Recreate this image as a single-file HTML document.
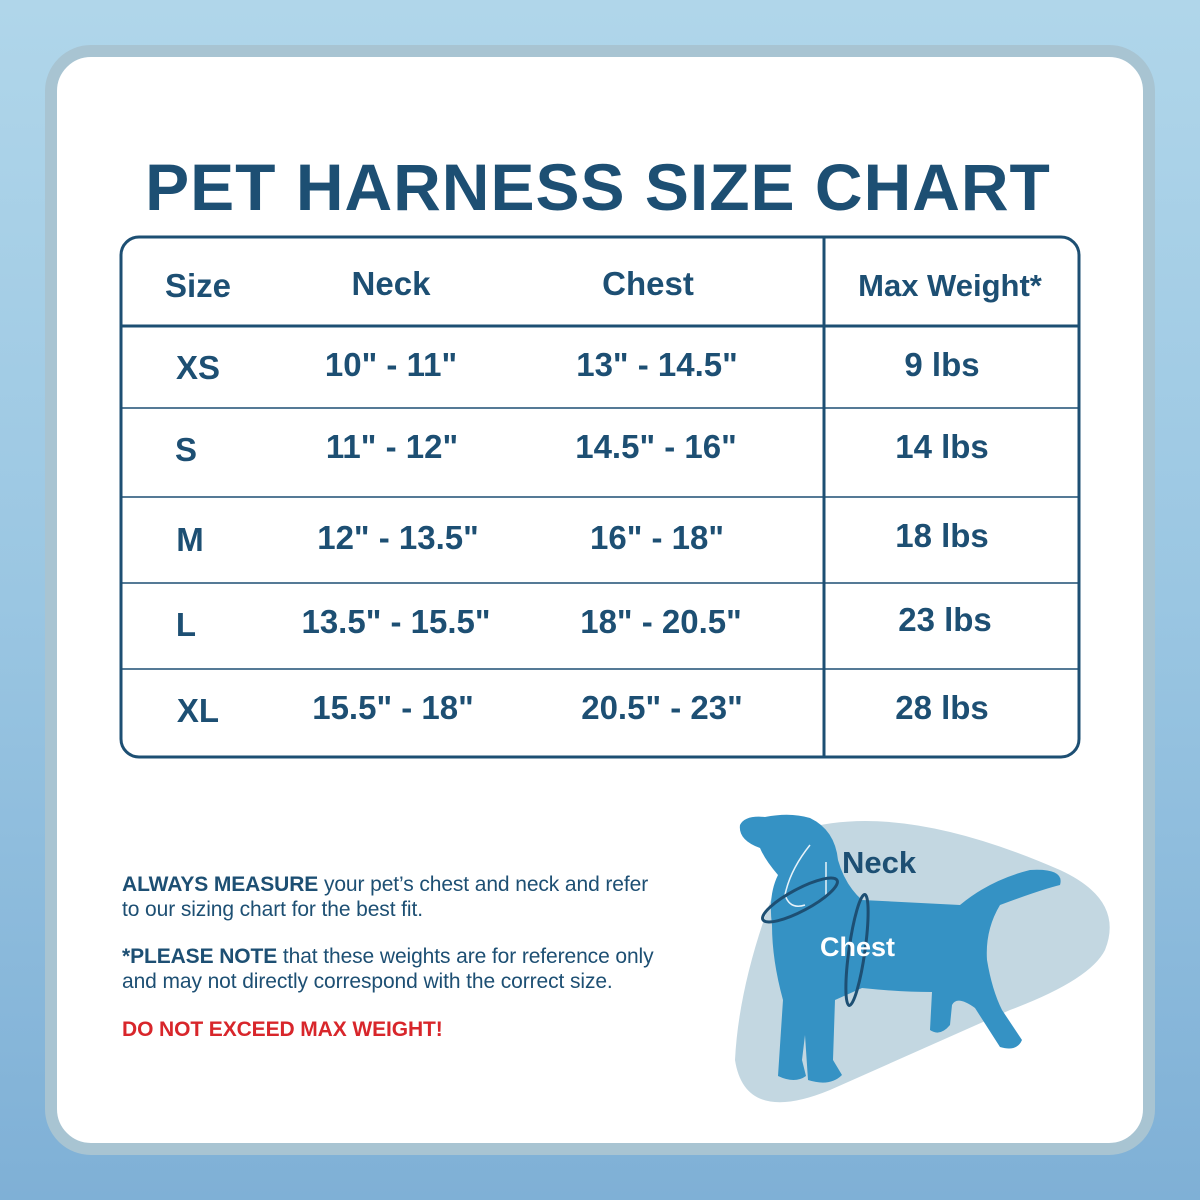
<!DOCTYPE html>
<html><head><style>
body{margin:0;width:1200px;height:1200px;overflow:hidden;background:linear-gradient(180deg,#b0d6ea 0%,#9ac6e2 50%,#7fb0d6 100%);font-family:"Liberation Sans",sans-serif;position:relative}
.card{position:absolute;left:45px;top:45px;width:1086px;height:1086px;border:12px solid #a8c4d2;border-radius:46px;background:#fff}
.t{position:absolute;color:#1d4f73;font-weight:bold;white-space:nowrap;transform:translateX(-50%)}
.h{font-size:33px}
.c{font-size:33px}
.p{position:absolute;left:122px;font-size:21px;color:#1d4f73;line-height:25px;letter-spacing:-0.1px;white-space:nowrap}
</style></head><body>
<div class="card"></div>
<div class="t" style="left:598px;top:149px;font-size:66px;letter-spacing:1px">PET HARNESS SIZE CHART</div>
<svg style="position:absolute;left:0;top:0" width="1200" height="1200">
<rect x="121" y="237" width="958" height="520" rx="18" fill="none" stroke="#1d4f73" stroke-width="3"/>
<line x1="824" y1="237" x2="824" y2="757" stroke="#1d4f73" stroke-width="3"/>
<line x1="121" y1="326" x2="1079" y2="326" stroke="#1d4f73" stroke-width="3"/>
<g stroke="#1d4f73" stroke-width="1.5">
<line x1="121" y1="408" x2="1079" y2="408"/><line x1="121" y1="497" x2="1079" y2="497"/>
<line x1="121" y1="583" x2="1079" y2="583"/><line x1="121" y1="669" x2="1079" y2="669"/></g>
<path d="M800 830 Q900 800 1060 870 Q1125 900 1105 950 Q1090 980 1010 1010 L830 1090 Q745 1125 735 1060 Q740 960 800 830Z" fill="#c3d7e1"/>
<g fill="#3592c4">
<path d="M740 825 Q745 815 765 817 Q790 812 810 818 Q835 830 838 860 Q845 885 862 900 L960 905 Q990 880 1030 870 Q1065 868 1060 885 Q1040 890 1000 905 Q985 930 987 960 Q992 990 1002 1010 L1022 1040 Q1017 1052 1000 1047 L975 1008 Q957 995 952 1005 L950 1025 Q940 1037 930 1030 L932 992 Q900 992 862 988 L835 1000 L833 1060 L842 1075 Q830 1087 808 1080 L805 1035 L802 1060 L806 1076 Q795 1084 778 1076 L783 1000 Q772 960 772 925 Q768 895 778 875 Q765 860 760 848 Q738 840 740 825Z"/>
</g>
<path d="M810 845 Q790 870 785 895 Q790 910 805 905 M826 862 L826 895" fill="none" stroke="#e8f3fa" stroke-width="1.5"/>
<ellipse cx="800" cy="900" rx="42" ry="11" transform="rotate(-28 800 900)" fill="none" stroke="#1d4f73" stroke-width="3"/>
<ellipse cx="857" cy="950" rx="8" ry="56" transform="rotate(8 857 950)" fill="none" stroke="#1d4f73" stroke-width="3"/>
</svg>
<div class="t h" style="left:198px;top:267px">Size</div>
<div class="t h" style="left:391px;top:265px">Neck</div>
<div class="t h" style="left:648px;top:265px">Chest</div>
<div class="t h" style="left:950px;top:268px;font-size:31px">Max Weight*</div>
<div class="t c" style="left:198px;top:349px">XS</div><div class="t c" style="left:391px;top:346px">10" - 11"</div><div class="t c" style="left:657px;top:346px">13" - 14.5"</div><div class="t c" style="left:942px;top:346px">9 lbs</div>
<div class="t c" style="left:186px;top:431px">S</div><div class="t c" style="left:392px;top:428px">11" - 12"</div><div class="t c" style="left:656px;top:428px">14.5" - 16"</div><div class="t c" style="left:942px;top:428px">14 lbs</div>
<div class="t c" style="left:190px;top:521px">M</div><div class="t c" style="left:398px;top:519px">12" - 13.5"</div><div class="t c" style="left:657px;top:519px">16" - 18"</div><div class="t c" style="left:942px;top:517px">18 lbs</div>
<div class="t c" style="left:186px;top:606px">L</div><div class="t c" style="left:396px;top:603px">13.5" - 15.5"</div><div class="t c" style="left:661px;top:603px">18" - 20.5"</div><div class="t c" style="left:945px;top:601px">23 lbs</div>
<div class="t c" style="left:198px;top:692px">XL</div><div class="t c" style="left:393px;top:689px">15.5" - 18"</div><div class="t c" style="left:662px;top:689px">20.5" - 23"</div><div class="t c" style="left:942px;top:689px">28 lbs</div>
<div class="p" style="top:872px"><b>ALWAYS MEASURE</b> your pet’s chest and neck and refer<br>to our sizing chart for the best fit.</div>
<div class="p" style="top:944px"><b>*PLEASE NOTE</b> that these weights are for reference only<br>and may not directly correspond with the correct size.</div>
<div class="p" style="top:1017px;color:#d8262b;font-weight:bold">DO NOT EXCEED MAX WEIGHT!</div>
<div style="position:absolute;left:842px;top:845px;font-size:31px;font-weight:bold;color:#1d4f73">Neck</div>
<div style="position:absolute;left:820px;top:932px;font-size:27px;font-weight:bold;color:#fff">Chest</div>
</body></html>
